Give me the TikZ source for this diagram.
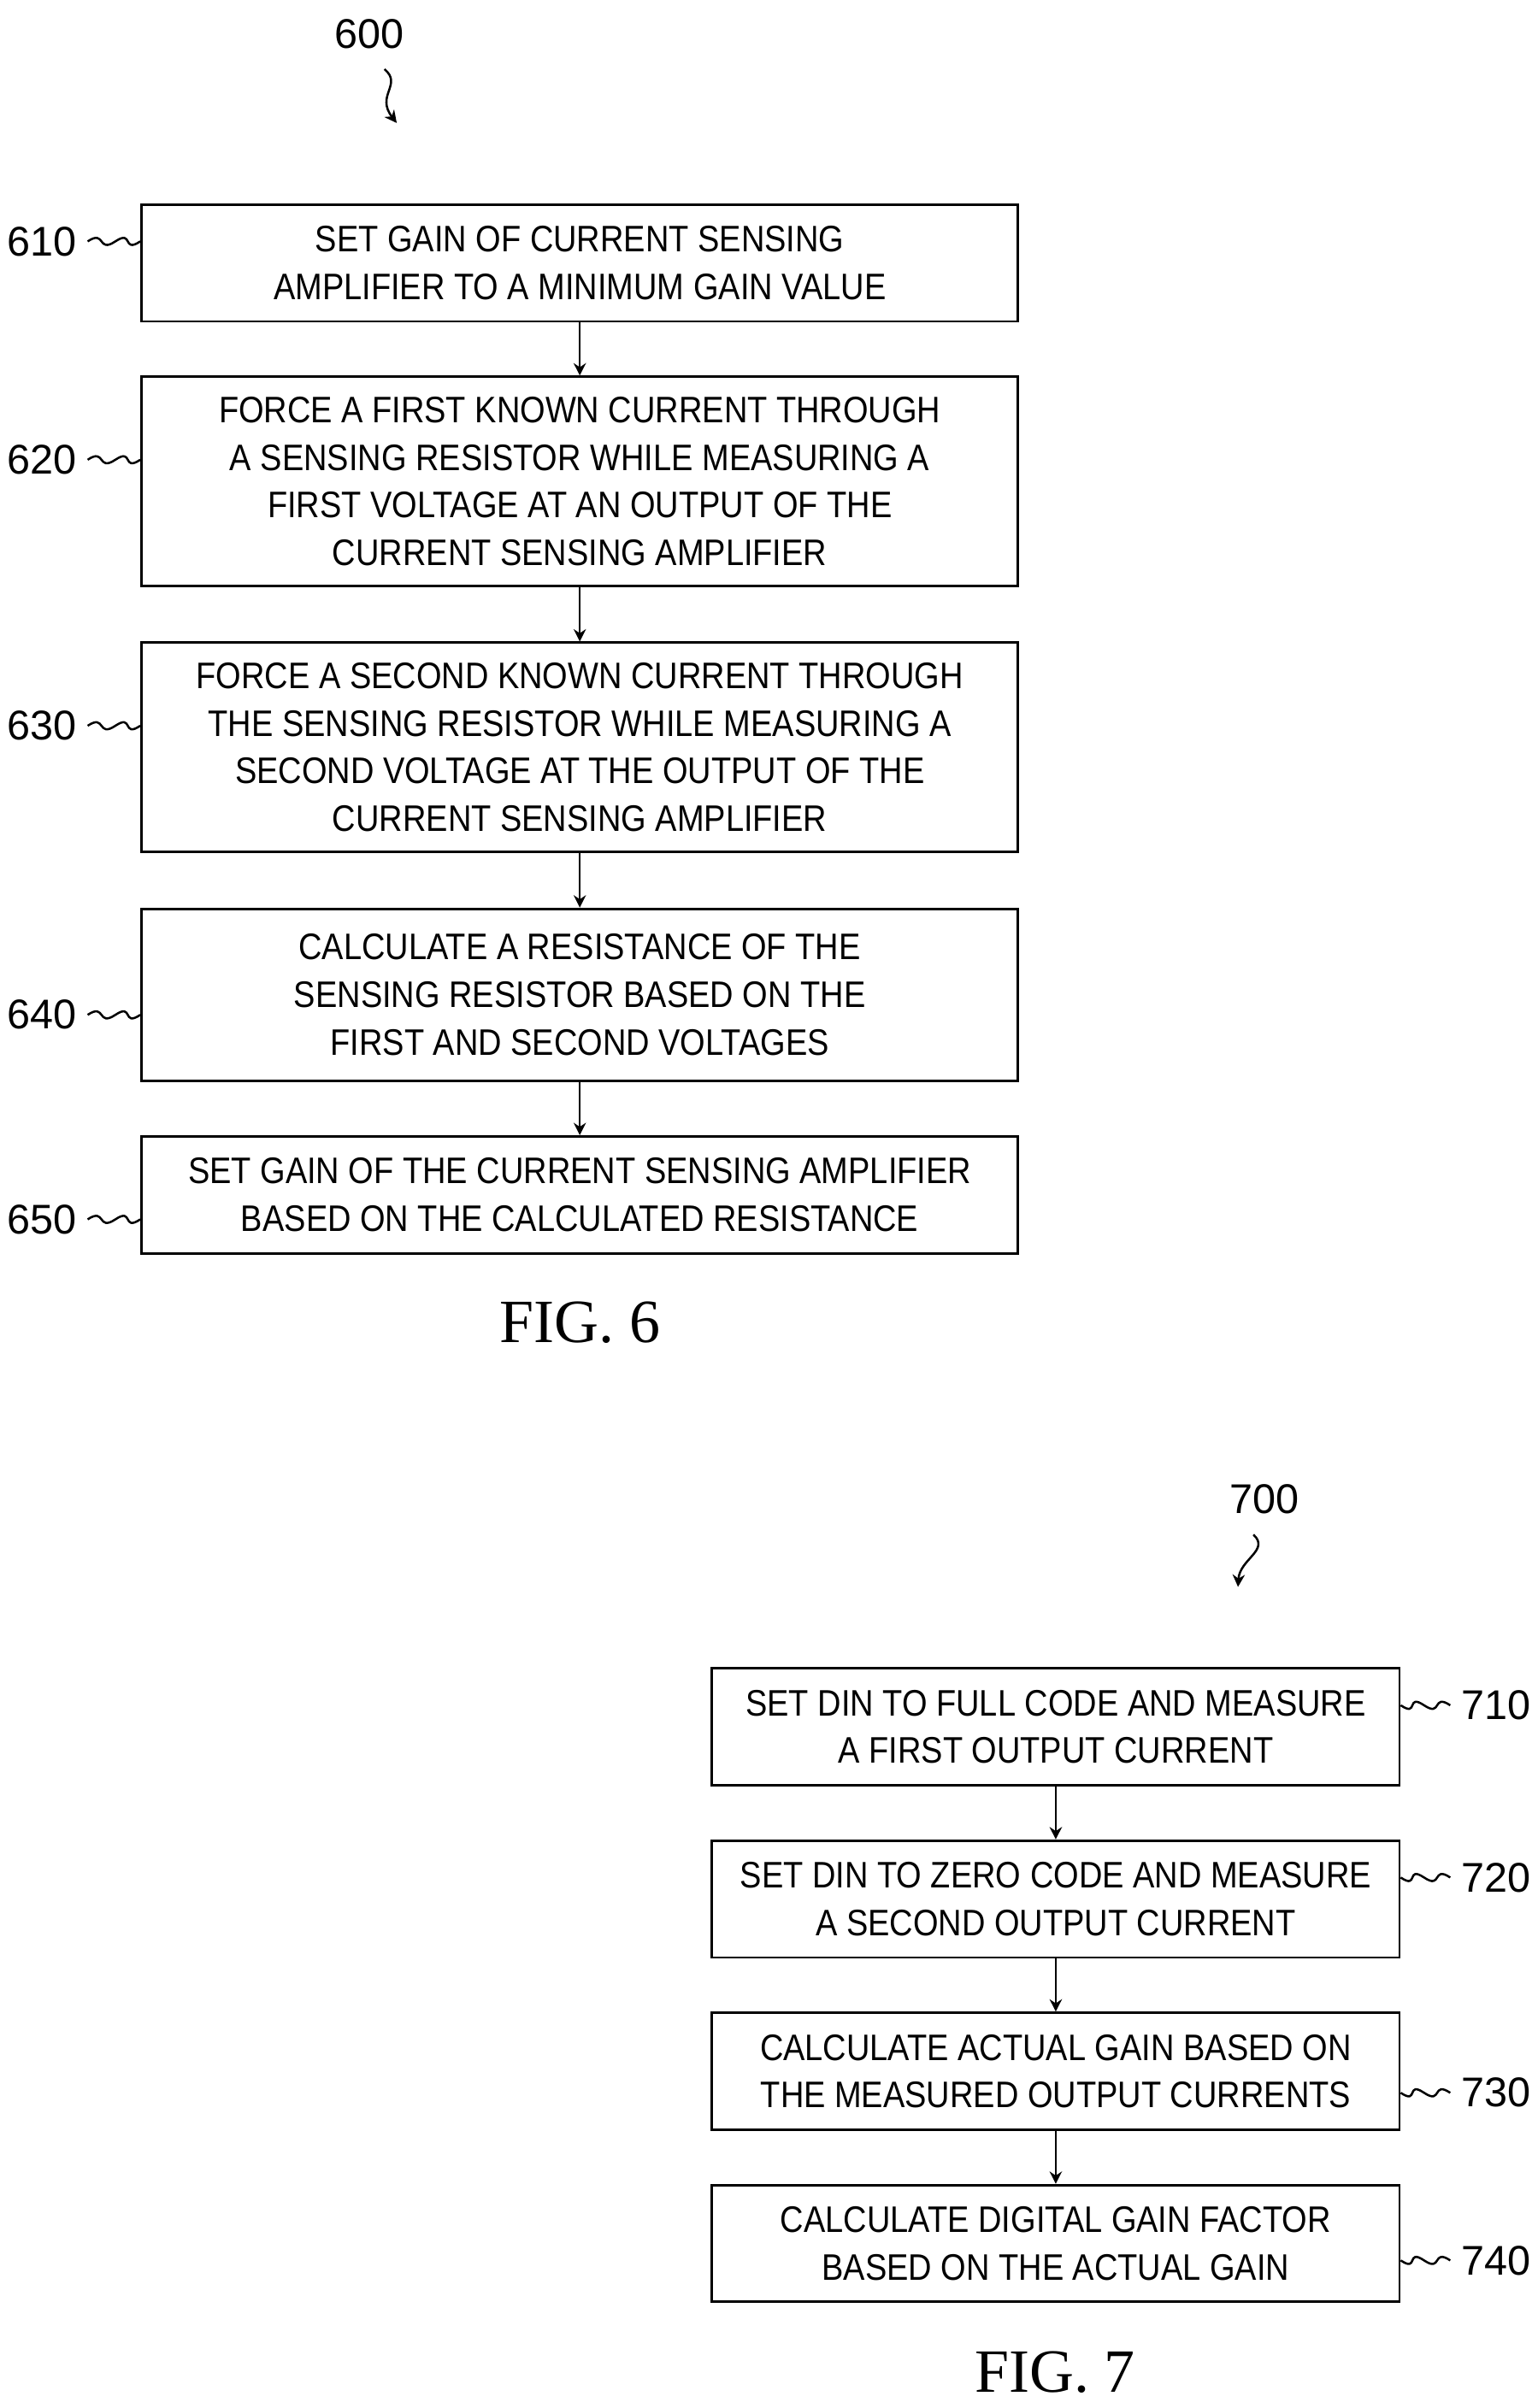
\documentclass[tikz,border=0pt]{standalone}
\usepackage{fontspec}
\setmainfont{Liberation Sans}
\newfontfamily\narrowfont{Liberation Sans}[FakeStretch=0.88]
\newfontfamily\figfont{Liberation Serif}
\usetikzlibrary{arrows.meta}
\begin{document}
\begin{tikzpicture}[x=0.5pt,y=-0.5pt,
 box/.style={draw,line width=0.8pt,inner sep=0pt,align=center,font=\narrowfont\fontsize{12}{15.5}\selectfont},
 lab/.style={font=\fontsize{13.5}{15}\selectfont},
 arr/.style={-{Stealth[length=4pt,width=4pt]},line width=0.7pt},
 lead/.style={line width=0.7pt},
 fig/.style={font=\figfont\fontsize{20}{22}\selectfont}]
\useasboundingbox (0,0) rectangle (1000,1566);
% FIG 6
\node[box,minimum width=285pt,minimum height=38pt] (b610) at (377,171) {SET GAIN OF CURRENT SENSING\\AMPLIFIER TO A MINIMUM GAIN VALUE};
\node[box,minimum width=285pt,minimum height=68pt] (b620) at (377,313) {FORCE A FIRST KNOWN CURRENT THROUGH\\A SENSING RESISTOR WHILE MEASURING A\\FIRST VOLTAGE AT AN OUTPUT OF THE\\CURRENT SENSING AMPLIFIER};
\node[box,minimum width=285pt,minimum height=68pt] (b630) at (377,486) {FORCE A SECOND KNOWN CURRENT THROUGH\\THE SENSING RESISTOR WHILE MEASURING A\\SECOND VOLTAGE AT THE OUTPUT OF THE\\CURRENT SENSING AMPLIFIER};
\node[box,minimum width=285pt,minimum height=56pt] (b640) at (377,647) {CALCULATE A RESISTANCE OF THE\\SENSING RESISTOR BASED ON THE\\FIRST AND SECOND VOLTAGES};
\node[box,minimum width=285pt,minimum height=38pt] (b650) at (377,777) {SET GAIN OF THE CURRENT SENSING AMPLIFIER\\BASED ON THE CALCULATED RESISTANCE};
\foreach \a/\b in {b610/b620,b620/b630,b630/b640,b640/b650} \draw[arr] (\a) -- (\b);
\foreach \n/\y in {610/157,620/299,630/472,640/660,650/793}{
 \node[lab,anchor=east] (l\n) at (57,\y) {\n};
 \draw[lead] (l\n.east) .. controls +(12,-8) and +(-12,8) .. +(18,0) .. controls +(12,-8) and +(-12,8) .. (b\n.west|-l\n.east);
}
\node[lab] (n600) at (240,22) {600};
\coordinate (t600) at (258,80);
\draw[arr] (250,45) .. controls (262,55) and (244,62) .. (t600);
\node[fig] (f6) at (377,860) {FIG. 6};
% FIG 7
\node[box,minimum width=223.5pt,minimum height=38pt] (b710) at (686.5,1123) {SET DIN TO FULL CODE AND MEASURE\\A FIRST OUTPUT CURRENT};
\node[box,minimum width=223.5pt,minimum height=38pt] (b720) at (686.5,1235) {SET DIN TO ZERO CODE AND MEASURE\\A SECOND OUTPUT CURRENT};
\node[box,minimum width=223.5pt,minimum height=38pt] (b730) at (686.5,1347) {CALCULATE ACTUAL GAIN BASED ON\\THE MEASURED OUTPUT CURRENTS};
\node[box,minimum width=223.5pt,minimum height=38pt] (b740) at (686.5,1459) {CALCULATE DIGITAL GAIN FACTOR\\BASED ON THE ACTUAL GAIN};
\foreach \a/\b in {b710/b720,b720/b730,b730/b740} \draw[arr] (\a) -- (\b);
\foreach \n/\y in {710/1109,720/1221,730/1361,740/1470}{
 \node[lab,anchor=west] (l\n) at (943,\y) {\n};
 \draw[lead] (l\n.west) .. controls +(-12,-8) and +(12,8) .. +(-17,0) .. controls +(-12,-8) and +(12,8) .. (b\n.east|-l\n.west);
}
\node[lab] (n700) at (822,975) {700};
\coordinate (t700) at (805,1032);
\draw[arr] (815,998) .. controls (826,1008) and (806,1014) .. (t700);
\node[fig] (f7) at (686,1543) {FIG. 7};
\end{tikzpicture}
\end{document}
